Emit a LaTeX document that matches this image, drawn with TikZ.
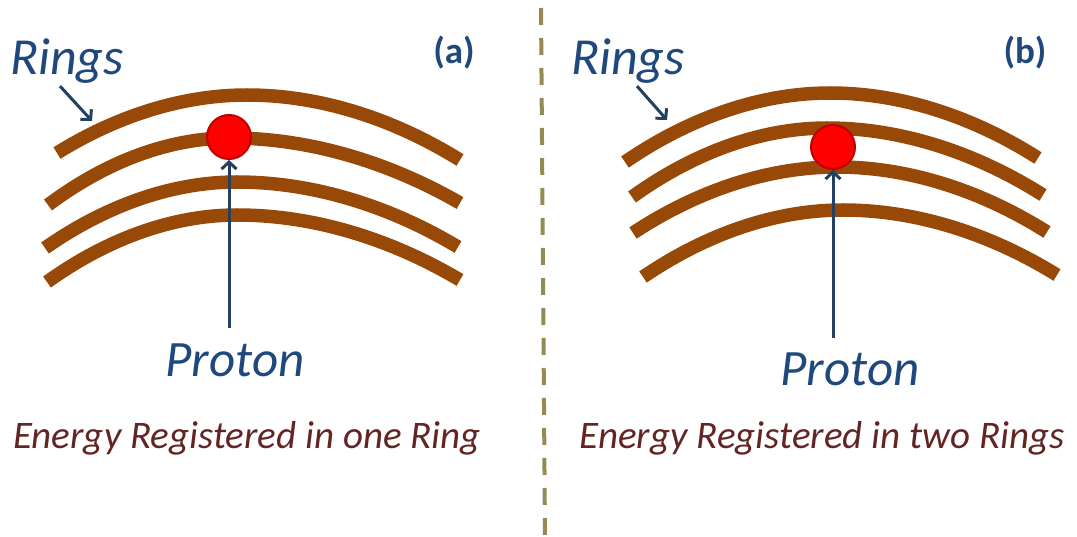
\documentclass[tikz,border=0pt]{standalone}
\usepackage{fontspec}
\setmainfont{Carlito}
\usetikzlibrary{arrows.meta, positioning}
\definecolor{ringbrown}{HTML}{984807}
\definecolor{txtblue}{HTML}{1F497D}
\definecolor{ptrblue}{HTML}{243F60}
\definecolor{capred}{HTML}{632523}
\definecolor{sepolive}{HTML}{948A54}
\definecolor{protonedge}{HTML}{C00000}

\begin{document}
\begin{tikzpicture}[
  x=1pt, y=-1pt,
  ring/.style={draw=ringbrown, line width=13.5pt, line cap=butt},
  proton/.style={circle, fill=red, draw=protonedge, line width=2pt,
                 minimum size=44pt, inner sep=0pt},
  ptr/.style={draw=ptrblue, line width=3pt,
              -{Straight Barb[length=7pt, width=15pt]}},
  lbl/.style={anchor=base, inner sep=0pt, text=txtblue,
              font=\fontsize{52}{60}\selectfont\itshape},
  plbl/.style={lbl, font=\fontsize{51}{58}\selectfont\itshape},
  tag/.style={anchor=base, inner sep=0pt, text=txtblue,
              font=\fontsize{37}{44}\selectfont\bfseries},
  captxt/.style={anchor=base, inner sep=0pt, text=capred,
              font=\fontsize{39}{46}\selectfont\itshape}
]
\useasboundingbox (0,0) rectangle (1077,537);
% Separator
\coordinate (sepT) at (541,8);
\coordinate (sepB) at (545,537);
\draw[sepolive, line width=4pt, dash pattern=on 17pt off 13pt] (sepT) -- (sepB);
% Panel (a): rings
\draw[ring] (57,153) parabola bend (247,95)  (460,160);
\draw[ring] (48,205) parabola bend (230,138) (460,203);
\draw[ring] (45,248) parabola bend (237,182) (458,247);
\draw[ring] (47,282) parabola bend (237,215) (460,280);
% Panel (b): rings
\draw[ring] (625,162) parabola bend (830,93)  (1038,158);
\draw[ring] (632,197) parabola bend (827,128) (1043,195);
\draw[ring] (633,233) parabola bend (837,167) (1047,232);
\draw[ring] (643,277) parabola bend (843,210) (1057,275);
% Protons
\node[proton] (pA) at (229,137) {};
\node[proton] (pB) at (833,147) {};
% Labels
\node[lbl] (ringsA) at (67,75) {Rings};
\node[lbl] (ringsB) at (628,75) {Rings};
\node[tag] (tagA) at (454,64) {(a)};
\node[tag] (tagB) at (1025,64) {(b)};
\node[plbl] (plA) at (235,377) {Proton};
\node[plbl] (plB) at (850,385) {Proton};
\node[captxt] (capA) at (247,448) {Energy Registered in one Ring};
\node[captxt] (capB) at (822,448) {Energy Registered in two Rings};
% Pointers
\coordinate (hitA) at (92,121);
\coordinate (hitB) at (667,120);
\draw[ptr] ([xshift=-7pt, yshift=-2pt]ringsA.south) -- (hitA);
\draw[ptr] ([xshift=9pt, yshift=-2pt]ringsB.south) -- (hitB);
\draw[ptr, shorten <=16pt] (plA.north -| pA.south) -- (pA.south);
\draw[ptr, shorten <=14pt] (plB.north -| pB.south) -- (pB.south);
\end{tikzpicture}
\end{document}
